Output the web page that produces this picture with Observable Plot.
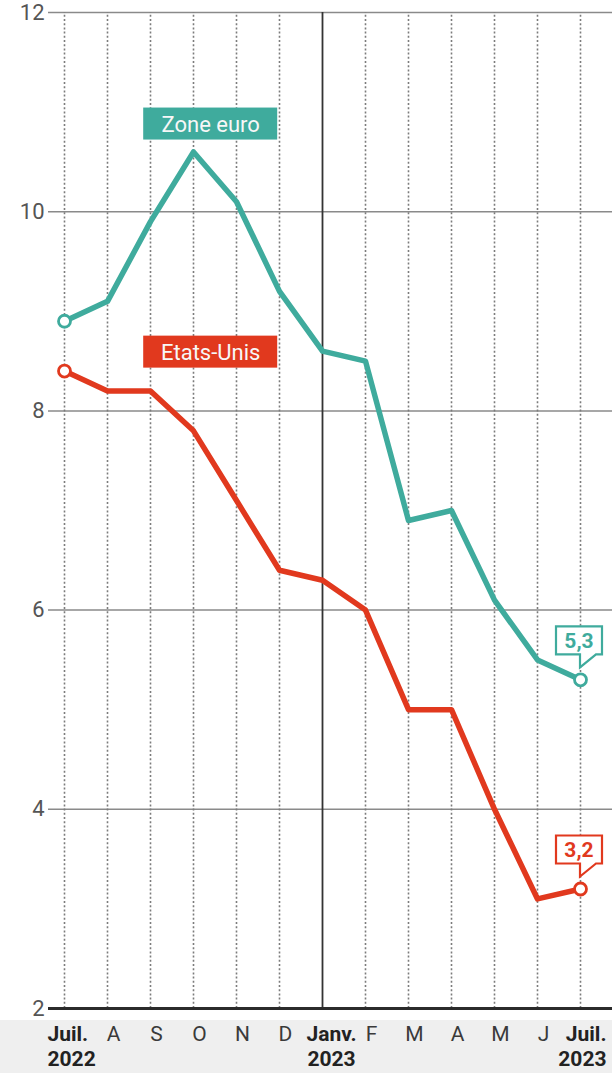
<!DOCTYPE html>
<html>
<head>
<meta charset="utf-8">
<script src="https://cdn.jsdelivr.net/npm/d3@7"></script>
<script src="https://cdn.jsdelivr.net/npm/@observablehq/plot@0.6"></script>
<style>
  html, body { margin: 0; padding: 0; }
  body {
    width: 612px;
    height: 1073px;
    overflow: hidden;
    background: linear-gradient(to bottom, #ffffff 0, #ffffff 1020px, #efefef 1020px, #efefef 100%);
  }
  #chart svg { display: block; }
</style>
</head>
<body>
<div id="chart"></div>
<script>
// Inflation sur un an (%), juillet 2022 - juillet 2023
const months = ["Juil.\n2022", "A", "S", "O", "N", "D", "Janv.\n2023", "F", "M", "A", "M", "J", "Juil.\n2023"];
const zoneEuro = [8.9, 9.1, 9.9, 10.6, 10.1, 9.2, 8.6, 8.5, 6.9, 7.0, 6.1, 5.5, 5.3];
const etatsUnis = [8.4, 8.2, 8.2, 7.8, 7.1, 6.4, 6.3, 6.0, 5.0, 5.0, 4.0, 3.1, 3.2];
const yTicks = [2, 4, 6, 8, 10, 12];
const seriesNames = ["Zone euro", "Etats-Unis"];

const colors = {"Zone euro": "#3fab9d", "Etats-Unis": "#e1391e"};

// Long table for the line marks
const rows = [
  ...zoneEuro.map((v, i) => ({series: seriesNames[0], i, v})),
  ...etatsUnis.map((v, i) => ({series: seriesNames[1], i, v}))
];
const lastIndex = months.length - 1;
const ends = rows.filter(d => d.i === 0 || d.i === lastIndex);
const lastValues = rows.filter(d => d.i === lastIndex);

// Series name tags, anchored in chart units
const tagAnchors = [
  {series: seriesNames[0], i: 3.4, v: 10.88},
  {series: seriesNames[1], i: 3.4, v: 8.59}
];

// Tick labels split into month line and (for year marks) year line
const ticks = months.map((label, i) => {
  const [month, year = ""] = label.split("\n");
  return {i, month, year};
});
const boldIdx = new Set([0, 6, lastIndex]);

// Value callout: outlined box with a pointer dropping onto the last point
function callout(index, scales, values) {
  const g = d3.create("svg:g");
  for (const k of index) {
    const d = lastValues[k];
    const px = values.x[k], py = values.y[k];
    const left = px - 24, right = px + 22, top = py - 53, bottom = py - 25, tip = py - 12;
    const c = colors[d.series];
    g.append("path")
      .attr("d", `M${px},${bottom}L${left},${bottom}L${left},${top}L${right},${top}L${right},${bottom}L${px + 16},${bottom}L${px},${tip}Z`)
      .attr("fill", "white")
      .attr("stroke", c)
      .attr("stroke-width", 2.2)
      .attr("stroke-linejoin", "miter");
    g.append("text")
      .attr("x", px - 1)
      .attr("y", (top + bottom) / 2)
      .attr("dy", "0.36em")
      .attr("text-anchor", "middle")
      .attr("fill", c)
      .attr("font-weight", 700)
      .attr("font-size", 21)
      .text(d3.format(".1f")(d.v).replace(".", ","));
  }
  return g.node();
}

// Bold two-line labels (month + year) for a given tick index
function yearLabel(idx, textAnchor, dx) {
  const sel = ticks.filter(d => d.i === idx);
  const common = {x: "i", frameAnchor: "bottom", lineAnchor: "top", textAnchor, dx, fontSize: 21, fontWeight: 700, fill: "#222"};
  return [
    Plot.text(sel, {...common, text: "month", dy: 18}),
    Plot.text(sel, {...common, text: "year", dy: 42.5})
  ];
}

const chart = Plot.plot({
  width: 612,
  height: 1073,
  marginTop: 12,
  marginBottom: 65,
  marginLeft: 48,
  marginRight: 0,
  style: {background: "transparent", fontFamily: "Roboto, 'Liberation Sans', sans-serif", overflow: "visible"},
  x: {domain: [0, lastIndex], insetLeft: 16, insetRight: 32, axis: null},
  y: {domain: [2, 12], label: null},
  marks: [
    // horizontal grid
    Plot.gridY(yTicks.filter(t => t > 2), {stroke: "#8a8a8a", strokeOpacity: 1, strokeWidth: 1.5}),
    // monthly dotted verticals, solid at the turn of the year
    Plot.ruleX(ticks.filter(d => d.i !== 6), {x: "i", y1: 2, y2: 12, stroke: "#7c7c7c", strokeWidth: 1.6, strokeDasharray: "2,2.2"}),
    Plot.ruleX(ticks.filter(d => d.i === 6), {x: "i", y1: 2, y2: 12, stroke: "#333", strokeWidth: 1.8}),
    // baseline
    Plot.ruleY([2], {stroke: "#2b2b2b", strokeWidth: 3}),
    Plot.axisY(yTicks, {tickSize: 0, tickPadding: 4, fontSize: 22, fill: "#555", tickFormat: d => String(d), label: null}),
    // month labels
    Plot.text(ticks.filter(d => !boldIdx.has(d.i)), {
      x: "i", text: "month", frameAnchor: "bottom", lineAnchor: "top", dy: 18, dx: 6,
      fontSize: 21, fill: "#3a3a3a"
    }),
    ...yearLabel(0, "start", -17),
    ...yearLabel(6, "middle", 9),
    ...yearLabel(lastIndex, "end", 26),
    // series
    Plot.line(rows, {x: "i", y: "v", z: "series", stroke: d => colors[d.series], strokeWidth: 5.5, strokeLinejoin: "round"}),
    Plot.dot(ends, {x: "i", y: "v", r: 6, fill: "white", stroke: d => colors[d.series], strokeWidth: 2.8}),
    // series tags
    Plot.rect(tagAnchors, {
      x1: "i", x2: "i", y1: "v", y2: "v",
      insetLeft: -67, insetRight: -67, insetTop: -16, insetBottom: -16,
      fill: d => colors[d.series]
    }),
    Plot.text(tagAnchors, {x: "i", y: "v", text: "series", fill: "#f7f7f7", fontSize: 22, dy: 1}),
    // end-value callouts
    Plot.dot(lastValues, {x: "i", y: "v", render: callout})
  ]
});

document.getElementById("chart").append(chart);
</script>
</body>
</html>
